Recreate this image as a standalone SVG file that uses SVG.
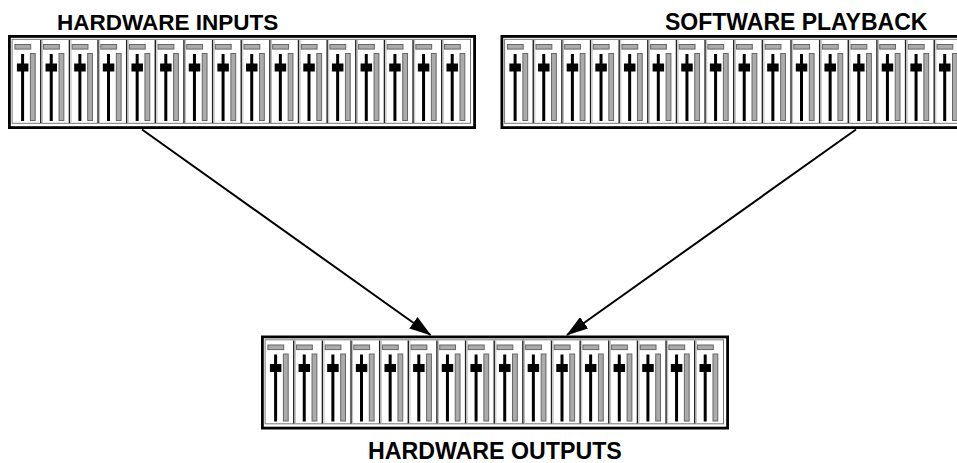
<svg xmlns="http://www.w3.org/2000/svg" xmlns:xlink="http://www.w3.org/1999/xlink" width="957" height="463" viewBox="0 0 957 463">
<style>
.lbl{font-family:"Liberation Sans",Arial,sans-serif;font-weight:bold;fill:#000}
.outer{fill:#fff;stroke:#000;stroke-width:2.8}
.inner{fill:none;stroke:#777;stroke-width:1}
.gray{fill:#ababab;stroke:#666;stroke-width:1}
.sep{stroke:#222;stroke-width:1.4}
.sepl{stroke:#bbb;stroke-width:1}
.fader{stroke:#000;stroke-width:3}
.conn{stroke:#000;stroke-width:2;fill:none}
</style>
<defs>
<g id="strip">
<rect class="gray" x="2.8" y="9.5" width="15.8" height="4.6"/>
<rect class="gray" x="18.3" y="18.5" width="4.8" height="67"/>
<line class="fader" x1="10.5" y1="19" x2="10.5" y2="86"/>
<rect x="4.8" y="28.5" width="11.5" height="8" fill="#000"/>
</g>
<g id="sstrip">
<line class="sep" x1="0" y1="5" x2="0" y2="88"/>
<line class="sepl" x1="1.6" y1="5" x2="1.6" y2="88"/>
<use xlink:href="#strip"/>
</g>
<g id="mixer">
<rect class="outer" x="1.4" y="1.4" width="465.2" height="91.2"/>
<rect class="inner" x="4.1" y="4.3" width="458.4" height="84"/>
<use xlink:href="#strip" x="4.1"/>
<use xlink:href="#sstrip" x="32.74"/>
<use xlink:href="#sstrip" x="61.38"/>
<use xlink:href="#sstrip" x="90.02"/>
<use xlink:href="#sstrip" x="118.66"/>
<use xlink:href="#sstrip" x="147.3"/>
<use xlink:href="#sstrip" x="175.94"/>
<use xlink:href="#sstrip" x="204.58"/>
<use xlink:href="#sstrip" x="233.22"/>
<use xlink:href="#sstrip" x="261.86"/>
<use xlink:href="#sstrip" x="290.5"/>
<use xlink:href="#sstrip" x="319.14"/>
<use xlink:href="#sstrip" x="347.78"/>
<use xlink:href="#sstrip" x="376.42"/>
<use xlink:href="#sstrip" x="405.06"/>
<use xlink:href="#sstrip" x="433.7"/>
</g>
<marker id="arr" markerUnits="userSpaceOnUse" markerWidth="22" markerHeight="14" viewBox="0 0 22 14" refX="21" refY="7" orient="auto">
<path d="M0,0 L22,7 L0,14 z" fill="#000"/>
</marker>
</defs>
<rect width="957" height="463" fill="#fff"/>
<g id="hardware-inputs">
<use xlink:href="#mixer" x="8" y="35"/>
<text class="lbl" x="57" y="29.5" font-size="22.5">HARDWARE INPUTS</text>
</g>
<g id="software-playback">
<use xlink:href="#mixer" x="500.5" y="35"/>
<text class="lbl" x="665" y="30" font-size="23">SOFTWARE PLAYBACK</text>
</g>
<g id="hardware-outputs">
<use xlink:href="#mixer" x="261" y="335.5"/>
<text class="lbl" x="368" y="459" font-size="23.2">HARDWARE OUTPUTS</text>
</g>
<g id="connectors">
<line class="conn" x1="142" y1="129.5" x2="430.5" y2="335" marker-end="url(#arr)"/>
<line class="conn" x1="856" y1="129.5" x2="567" y2="335" marker-end="url(#arr)"/>
</g>
</svg>
